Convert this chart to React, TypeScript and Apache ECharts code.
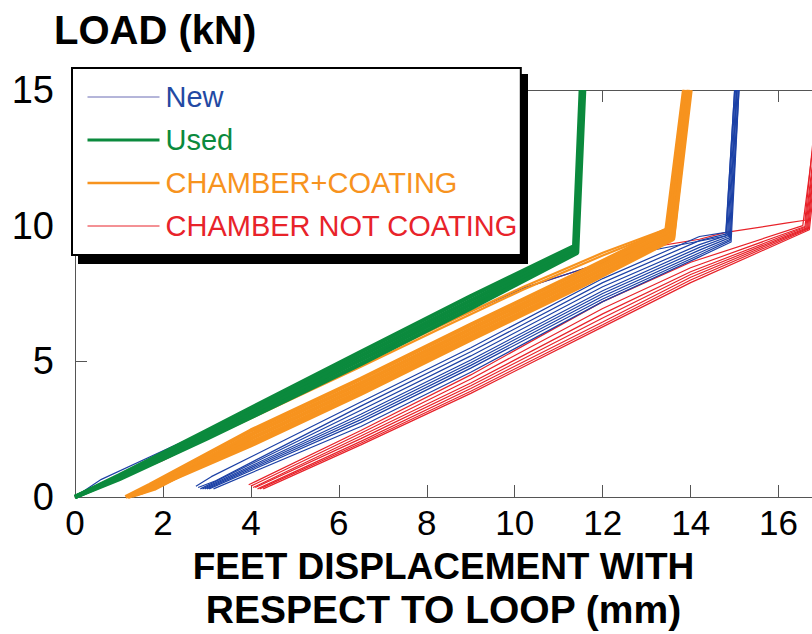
import React, { useEffect, useRef } from "react";
import * as echarts from "echarts";

// Axis ranges / ticks
const X_MIN = 0;
const X_MAX = 16.76;
const X_STEP = 2;
const Y_MIN = 0;
const Y_MAX = 15;
const Y_STEP = 5;

const TITLE = "LOAD (kN)";
const X_NAME_LINES = ["FEET DISPLACEMENT WITH", "RESPECT TO LOOP (mm)"];
const GROUPS = ["New", "Used", "CHAMBER+COATING", "CHAMBER NOT COATING"];

// "New" test curves: [displacement mm, load kN]
const newCurves: number[][][] = [
  [[0, 0], [0.6, 0.65], [2.2, 1.85], [4, 3.15], [7, 5.4], [10.2, 7.7], [12.5, 8.9], [14.8, 9.62], [15.0, 15]],
  [[2.75, 0.4], [3.1, 0.75], [6.5, 3.5], [9, 5.5], [12, 8.05], [14.2, 9.6], [14.8, 9.75], [15.0, 15]],
  [[2.8, 0.35], [3.2, 0.6], [6.5, 3.35], [9, 5.35], [12, 7.9], [14.2, 9.45], [14.82, 9.7], [15.02, 15]],
  [[2.85, 0.3], [6.5, 3.2], [9, 5.2], [12, 7.75], [14.2, 9.3], [14.84, 9.65], [15.04, 15]],
  [[2.9, 0.3], [6.5, 3.05], [9, 5.05], [12, 7.6], [14.2, 9.2], [14.86, 9.6], [15.05, 15]],
  [[2.95, 0.3], [6.5, 2.95], [9, 4.95], [12, 7.5], [14.2, 9.1], [14.88, 9.55], [15.06, 15]],
  [[3.0, 0.3], [6.5, 2.85], [9, 4.85], [12, 7.4], [14.2, 9.0], [14.9, 9.5], [15.08, 15]],
  [[3.05, 0.3], [6.5, 2.75], [9, 4.75], [12, 7.3], [14.2, 8.92], [14.9, 9.45], [15.1, 15]],
  [[3.15, 0.3], [6.5, 2.6], [9, 4.6], [12, 7.2], [14.2, 8.85], [14.92, 9.4], [15.1, 15]],
];

// "Used" test curves
const usedCurves: number[][][] = [
  [[0, 0], [1, 0.8], [3, 2.45], [6.5, 5.35], [9, 7.4], [11.35, 9.25], [11.5, 15]],
  [[0, 0], [1, 0.75], [3, 2.35], [6.5, 5.2], [9, 7.25], [11.38, 9.15], [11.53, 15]],
  [[0, 0], [1, 0.7], [3, 2.25], [6.5, 5.05], [9, 7.1], [11.4, 9.05], [11.56, 15]],
  [[0, 0], [1, 0.65], [3, 2.15], [6.5, 4.9], [9, 6.95], [11.42, 9.0], [11.58, 15]],
];

// "CHAMBER+COATING" test curves
const coatCurves: number[][][] = [
  [[0, 0], [2, 1.45], [4, 3.0], [6.5, 4.9], [8.3, 6.3], [10.2, 7.75], [12, 9.0], [13.45, 9.88], [13.85, 15]],
  [[0, 0], [2, 1.4], [4, 2.9], [6.5, 4.8], [8.3, 6.2], [10.2, 7.65], [12, 8.9], [13.47, 9.85], [13.86, 15]],
  [[1.15, 0], [1.7, 0.45], [4, 2.45], [6.5, 4.35], [9, 6.35], [11.5, 8.3], [13.45, 9.85], [13.85, 15]],
  [[1.2, 0], [1.75, 0.35], [4, 2.3], [6.5, 4.2], [9, 6.2], [11.5, 8.15], [13.5, 9.75], [13.9, 15]],
  [[1.3, 0.05], [1.8, 0.3], [4, 2.15], [6.5, 4.05], [9, 6.05], [11.5, 8.0], [13.55, 9.65], [13.95, 15]],
  [[1.4, 0.1], [4, 2.0], [6.5, 3.9], [9, 5.9], [11.5, 7.85], [13.6, 9.55], [13.97, 15]],
  [[1.5, 0.15], [4, 1.9], [6.5, 3.8], [9, 5.8], [11.5, 7.75], [13.6, 9.5], [14.0, 15]],
];

// "CHAMBER NOT COATING" test curves
const notCoatCurves: number[][][] = [
  [[0, 0], [2, 1.35], [4, 2.95], [6.5, 4.85], [8.3, 6.35], [10.2, 7.7], [13.08, 9.2], [14.2, 9.5], [14.8, 9.75], [16.2, 10.1], [16.6, 10.2], [16.9, 15]],
  [[3.95, 0.45], [6.5, 2.45], [9, 4.5], [12, 7.2], [14, 8.65], [16.55, 10.0], [16.95, 15]],
  [[4.0, 0.4], [6.5, 2.35], [9, 4.35], [12, 6.95], [14, 8.45], [16.6, 9.97], [16.97, 15]],
  [[4.05, 0.35], [6.5, 2.25], [9, 4.2], [12, 6.75], [14, 8.3], [16.62, 9.95], [16.98, 15]],
  [[4.1, 0.35], [6.5, 2.15], [9, 4.1], [12, 6.6], [14, 8.2], [16.64, 9.92], [17.0, 15]],
  [[4.15, 0.3], [6.5, 2.05], [9, 4.0], [12, 6.45], [14, 8.1], [16.66, 9.9], [17.0, 15]],
  [[4.2, 0.3], [6.5, 1.98], [9, 3.9], [12, 6.35], [14, 8.0], [16.68, 9.88], [17.02, 15]],
  [[4.28, 0.3], [6.5, 1.92], [9, 3.82], [12, 6.27], [14, 7.9], [16.7, 9.85], [17.05, 15]],
];

const FONT = "'Liberation Sans', Arial, Helvetica, sans-serif";

export default function App() {
  const ref = useRef<HTMLDivElement>(null);

  useEffect(() => {
    if (!ref.current) return;
    const chart = echarts.init(ref.current, undefined, { renderer: "svg" });

    const styles = [
      { color: "#1c41a6", width: 1.2, legendColor: "#6a6cb4", legendWidth: 1, text: "#2349a3" },
      { color: "#0b8a3d", width: 4.2, legendColor: "#0b8a3d", legendWidth: 3, text: "#0b8a3d" },
      { color: "#f7931e", width: 4.2, legendColor: "#f7931e", legendWidth: 2.5, text: "#f7931e" },
      { color: "#e8232a", width: 1.2, legendColor: "#e8232a", legendWidth: 1, text: "#e8232a" },
    ];
    const groups = [newCurves, usedCurves, coatCurves, notCoatCurves];
    const drawOrder = [3, 0, 2, 1];

    const series: any[] = [];
    drawOrder.forEach((gi) => {
      groups[gi].forEach((curve, ci) => {
        // thin single strands inside the thick groups
        const thinStrand = (gi === 2 && ci < 2);
        series.push({
          type: "line",
          name: GROUPS[gi],
          data: curve,
          showSymbol: false,
          symbol: "none",
          color: styles[gi].color,
          lineStyle: { color: styles[gi].color, width: thinStrand ? 2.2 : styles[gi].width },
          silent: true,
          clip: true,
        });
      });
    });

    const option: any = {
      animation: false,
      textStyle: { fontFamily: FONT },
      title: {
        text: TITLE,
        left: 54,
        top: 10,
        padding: 0,
        textStyle: { fontFamily: FONT, fontSize: 40, fontWeight: "bold", color: "#000" },
      },
      grid: { left: 75, top: 90, right: 0, bottom: 137, containLabel: false },
      xAxis: [
        {
          type: "value",
          min: X_MIN,
          max: X_MAX,
          interval: X_STEP,
          position: "bottom",
          name: `{a|${X_NAME_LINES[0]}}\n{b|${X_NAME_LINES[1]}}`,
          nameLocation: "middle",
          nameGap: 48,
          nameTextStyle: {
            fontFamily: FONT,
            fontWeight: "bold",
            color: "#000",
            rich: {
              a: { fontFamily: FONT, fontSize: 37, fontWeight: "bold", color: "#000", lineHeight: 43 },
              b: { fontFamily: FONT, fontSize: 39, fontWeight: "bold", color: "#000", lineHeight: 43 },
            },
          },
          axisLine: { show: true, lineStyle: { color: "#555", width: 1 } },
          axisTick: { show: true, inside: true, length: 12, lineStyle: { color: "#555" } },
          axisLabel: { fontFamily: FONT, fontSize: 35, color: "#000", margin: 8, showMaxLabel: false },
          splitLine: { show: false },
        },
        {
          type: "value",
          min: X_MIN,
          max: X_MAX,
          interval: X_STEP,
          position: "top",
          axisLine: { show: true, lineStyle: { color: "#555", width: 1 } },
          axisTick: { show: true, inside: true, length: 12, lineStyle: { color: "#555" } },
          axisLabel: { show: false },
          splitLine: { show: false },
        },
      ],
      yAxis: {
        type: "value",
        min: Y_MIN,
        max: Y_MAX,
        interval: Y_STEP,
        axisLine: { show: true, lineStyle: { color: "#555", width: 1 } },
        axisTick: { show: true, inside: true, length: 12, lineStyle: { color: "#555" } },
        axisLabel: { fontFamily: FONT, fontSize: 38, color: "#000", margin: 21 },
        splitLine: { show: false },
      },
      legend: {
        orient: "vertical",
        left: 72,
        top: 68,
        padding: [14, 3, 14, 14],
        itemGap: 13,
        itemWidth: 72,
        itemHeight: 14,
        backgroundColor: "#fff",
        borderColor: "#000",
        borderWidth: 2,
        borderRadius: 0,
        selectedMode: false,
        textStyle: { fontFamily: FONT, fontSize: 29, lineHeight: 30, padding: [0, 0, 0, 1] },
        data: GROUPS.map((g, i) => ({
          name: g,
          textStyle: { color: styles[i].text },
          lineStyle: { color: styles[i].legendColor, width: styles[i].legendWidth },
          itemStyle: { color: "rgba(0,0,0,0)", borderWidth: 0, opacity: 0 },
        })),
      },
      graphic: [
        {
          type: "rect",
          left: 78,
          top: 74,
          shape: { width: 450, height: 190 },
          style: { fill: "#000" },
          z: 3,
          silent: true,
        },
      ],
      series,
    };

    chart.setOption(option);
    return () => chart.dispose();
  }, []);

  return (
    <div
      ref={ref}
      style={{ position: "fixed", left: 0, top: 0, width: 812, height: 634, background: "#fff" }}
    />
  );
}
